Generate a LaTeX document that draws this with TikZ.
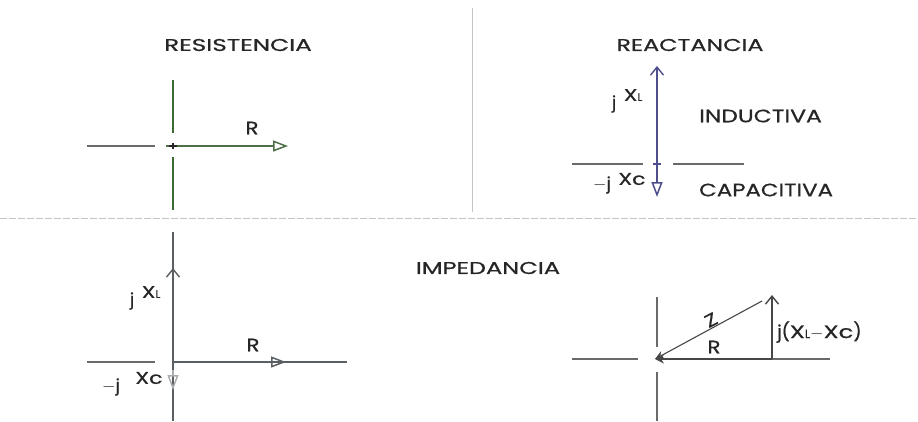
\documentclass[tikz,border=0pt]{standalone}
\usepackage{fontspec}
\usepackage{graphicx}
\setmainfont{Poppins}[FakeBold=0.6]
\usetikzlibrary{arrows.meta}
\definecolor{axgreen}{HTML}{3E6B33}
\definecolor{axgray}{HTML}{6A6A6A}
\definecolor{axpurple}{HTML}{4E4E8E}
\definecolor{axslate}{HTML}{5A5F64}
\definecolor{txt}{HTML}{262626}
\definecolor{divgray}{HTML}{C4C4C4}
\newcommand{\wide}[2]{\scalebox{#1}[1]{#2}}
\begin{document}
\begin{tikzpicture}[x=1pt,y=-1pt,
  title/.style={font=\fontsize{17}{19}\selectfont,text=txt,inner sep=0pt},
  lbl/.style={font=\fontsize{18}{20}\selectfont,text=txt,inner sep=0pt},
  sm/.style={font=\fontsize{17}{19}\selectfont,text=txt,inner sep=0pt},
  ax/.style={line width=1.7pt},
  opentri/.style={-{Triangle[open,length=15pt,width=11pt,line width=1.5pt]}},
  chev/.style={-{Straight Barb[length=8pt,width=13pt,line width=1.4pt]}}]
\useasboundingbox (0,0) rectangle (918,421);
% dividers
\draw[divgray,line width=0.8pt] (472,8) -- (472,212);
\draw[divgray,line width=0.8pt,dash pattern=on 7pt off 2pt] (0,218) -- (918,218);
% ---------- RESISTENCIA
\node[title] (tres) at (238,45) {\wide{1.45}{RESISTENCIA}};
\coordinate (o1) at (173,146);
\draw[axgreen,line width=2.6pt] (173,80) -- (173,133);
\draw[axgreen,line width=2.6pt] (173,157) -- (173,210);
\draw[axgray,ax] (87,146) -- (155,146);
\coordinate (r1) at (288,146);
\draw[axgreen!75!gray,line width=1.8pt,opentri] (166,146) -- (r1);
\draw[txt,line width=1.5pt] (169,146) -- (177,146) (173,143) -- (173,149);
\node[lbl] (lr1) at (252,128) {\wide{1.2}{R}};
% ---------- REACTANCIA
\node[title] (treac) at (690,45) {\wide{1.4}{REACTANCIA}};
\coordinate (o2) at (657,164);
\coordinate (xl2) at (657,66);
\coordinate (xc2) at (657,197);
\draw[axgray,ax] (572,164) -- (643,164);
\draw[axgray,ax] (673,164) -- (744,164);
\draw[axpurple,line width=1.4pt,chev] (o2) -- (xl2);
\draw[axpurple,line width=2.6pt,opentri] (o2) -- (xc2);
\draw[axpurple,line width=1.5pt] (653,164) -- (661,164);
\node[sm] (j2) at (614,104) {j};
\node[sm] (x2) at (633,95) {\wide{1.3}{X}{\fontsize{11}{12}\selectfont L}};
\node[lbl,anchor=west] (ind) at (699,116) {\wide{1.3}{INDUCTIVA}};
\node[lbl,anchor=west] (cap) at (699,190) {\wide{1.27}{CAPACITIVA}};
\node[sm] (mj2) at (602,185) {$-$j};
\node[sm] (xc2l) at (632,179) {\wide{1.3}{Xc}};
% ---------- IMPEDANCIA left
\node[title] (timp) at (488,268) {\wide{1.42}{IMPEDANCIA}};
\coordinate (o3) at (173,362);
\draw[axslate,line width=2.8pt] (173,232) -- (173,421);
\draw[axslate,line width=1.5pt,chev] (173,300) -- (173,268);
\draw[axslate!50,line width=1.5pt,opentri] (173,370) -- (173,390);
\draw[axgray,ax] (87,362) -- (155,362);
\draw[axslate,ax] (o3) -- (347,362);
\draw[axslate,line width=2pt,opentri] (173,362) -- (286,362);
\node[lbl] (lr3) at (253,345) {\wide{1.2}{R}};
\node[sm] (j3) at (132,301) {j};
\node[sm] (x3) at (151,292) {\wide{1.3}{X}{\fontsize{11}{12}\selectfont L}};
\node[sm] (mj3) at (111,387) {$-$j};
\node[sm] (xc3) at (149,378) {\wide{1.3}{Xc}};
% ---------- IMPEDANCIA right
\coordinate (o4) at (655,359);
\coordinate (zt) at (762,301);
\coordinate (rt) at (772,359);
\coordinate (xt) at (772,295);
\draw[axgray,ax] (572,359) -- (638,359);
\draw[axgray,ax] (660,359) -- (830,359);
\draw[axgray,ax] (657,297) -- (657,347);
\draw[axgray,ax] (657,372) -- (657,421);
\draw[txt!85,line width=2.8pt,-{Stealth[length=9pt,width=9pt]}] (rt) -- (o4);
\draw[txt!85,line width=1.1pt,-{Stealth[length=9pt,width=8pt]}] (zt) -- (o4);
\draw[txt!85,line width=1.5pt,chev] (rt) -- (xt);
\node[lbl,rotate=28] (lz) at (711,320) {\wide{1.2}{Z}};
\node[lbl] (lr4) at (714,347) {\wide{1.2}{R}};
\node[lbl,anchor=west] (jx4) at (777,332) {j(\wide{1.35}{X}{\fontsize{12}{13}\selectfont L}$-$\wide{1.35}{Xc})};
\end{tikzpicture}
\end{document}
